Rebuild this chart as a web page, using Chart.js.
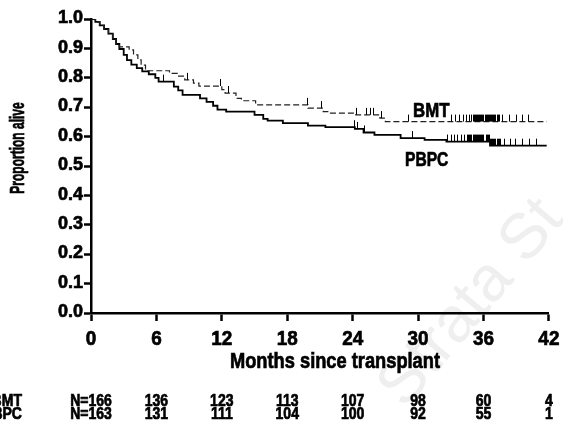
<!DOCTYPE html>
<html>
<head>
<meta charset="utf-8">
<script src="https://cdn.jsdelivr.net/npm/chart.js@4"></script>
<style>
  html, body { margin: 0; padding: 0; background: #fff; }
  canvas { display: block; }
</style>
</head>
<body>
<canvas id="kmChart" width="563" height="424"></canvas>
<script>
// survival steps: [month, proportion alive after the drop]
const bmtSteps = [
  [0, 1.0], [0.4, 0.99], [0.8, 0.978], [1.2, 0.966], [1.6, 0.95], [2.0, 0.932],
  [2.3, 0.915], [2.6, 0.905], [3.5, 0.895], [3.9, 0.878], [4.3, 0.861], [4.6, 0.843],
  [5.0, 0.824], [7.2, 0.815], [7.9, 0.806], [8.6, 0.793], [9.4, 0.782], [9.9, 0.772],
  [12.0, 0.76], [12.3, 0.748], [13.3, 0.73], [13.8, 0.722], [15.1, 0.708], [19.9, 0.697],
  [21.3, 0.685], [21.8, 0.68], [24.3, 0.674], [26.5, 0.663], [27.0, 0.651], [41.8, 0.651]
];
const pbpcSteps = [
  [0, 1.0], [0.4, 0.99], [0.8, 0.978], [1.2, 0.966], [1.6, 0.95], [2.0, 0.932],
  [2.3, 0.915], [2.6, 0.898], [3.0, 0.878], [3.3, 0.86], [3.7, 0.845], [4.2, 0.833],
  [4.7, 0.822], [5.3, 0.812], [5.9, 0.8], [6.2, 0.787], [7.6, 0.77], [8.0, 0.757],
  [8.4, 0.742], [10.0, 0.73], [10.6, 0.718], [11.2, 0.705], [11.6, 0.692], [12.4, 0.685],
  [15.0, 0.674], [15.8, 0.66], [16.2, 0.654], [17.6, 0.646], [19.9, 0.637], [21.5, 0.632],
  [24.2, 0.626], [25.0, 0.614], [26.0, 0.606], [28.4, 0.595], [30.6, 0.589], [32.6, 0.583],
  [36.6, 0.569], [41.8, 0.569]
];
// censored observations (months)
const bmtCensored = [8.8, 11.8, 12.6, 19.8, 21.1, 24.3, 25.2, 25.6, 25.9, 26.6, 29.1,
  33.0, 33.4, 33.8, 34.1, 34.4, 34.7, 34.9, 35.0, 35.1, 35.2, 35.3, 35.4, 35.5, 35.6,
  35.7, 35.8, 35.9, 36.0, 36.1, 36.2, 36.3, 36.4, 36.5, 36.6, 36.7, 36.8, 36.9, 37.0,
  37.1, 37.2, 37.3, 37.4, 37.7, 38.3, 39.0, 39.5, 40.1];
const pbpcCensored = [6.6, 24.1, 24.4, 25.0, 29.4, 32.7, 33.0, 33.3, 33.6, 33.9, 34.2,
  34.5, 34.6, 34.7, 34.8, 34.9, 35.0, 35.1, 35.2, 35.3, 35.4, 35.5, 35.6, 35.7, 35.8,
  35.9, 36.0, 36.2, 36.3, 36.4, 36.5, 36.6, 36.7, 36.8, 36.9, 37.0, 37.1, 37.2, 37.3,
  37.4, 37.5, 37.9, 38.4, 38.9, 39.5, 40.2, 40.8];

// number at risk
const riskMonths = [0, 6, 12, 18, 24, 30, 36, 42];
const bmtAtRisk = ["N=166", "136", "123", "113", "107", "98", "60", "4"];
const pbpcAtRisk = ["N=163", "131", "111", "104", "100", "92", "55", "1"];

const FONT = "'Liberation Sans', Arial, sans-serif";

function toPoints(steps) {
  return steps.map(s => ({ x: s[0], y: s[1] }));
}

function survivalAt(steps, t) {
  let v = steps[0][1];
  for (const s of steps) {
    if (s[0] <= t) v = s[1];
  }
  return v;
}

// heavy, horizontally squeezed text (condensed look)
function drawText(ctx, text, x, y, size, sx, align, baseline) {
  ctx.save();
  ctx.translate(x, y);
  ctx.scale(sx, 1);
  ctx.font = "bold " + size + "px " + FONT;
  ctx.textAlign = align;
  ctx.textBaseline = baseline;
  ctx.fillStyle = "#000";
  ctx.strokeStyle = "#000";
  ctx.lineWidth = 0.7;
  ctx.fillText(text, 0, 0);
  ctx.strokeText(text, 0, 0);
  ctx.restore();
}

const extrasPlugin = {
  id: "extras",
  beforeDraw(chart) {
    const ctx = chart.ctx;
    ctx.save();
    ctx.translate(405, 410);
    ctx.rotate(-0.87);
    ctx.fillStyle = "#efefef";
    ctx.font = "64px " + FONT;
    ctx.fillText("Strata St", 0, 0);
    ctx.restore();
  },
  afterDraw(chart) {
    const ctx = chart.ctx;
    const xs = chart.scales.x;
    const ys = chart.scales.y;

    // censor marks
    ctx.save();
    ctx.strokeStyle = "#000";
    ctx.lineWidth = 1;
    const marks = [[bmtSteps, bmtCensored], [pbpcSteps, pbpcCensored]];
    marks.forEach(([steps, times]) => {
      times.forEach(t => {
        const px = Math.round(xs.getPixelForValue(t)) + 0.5;
        const py = ys.getPixelForValue(survivalAt(steps, t));
        ctx.beginPath();
        ctx.moveTo(px, py);
        ctx.lineTo(px, py - 7);
        ctx.stroke();
      });
    });
    ctx.restore();

    // tick labels
    ys.ticks.forEach(t => {
      drawText(ctx, t.value.toFixed(1), 83, ys.getPixelForValue(t.value) - 1, 19, 0.95, "right", "middle");
    });
    xs.ticks.forEach(t => {
      drawText(ctx, String(t.value), xs.getPixelForValue(t.value), 345, 21, 0.9, "center", "alphabetic");
    });

    // curve labels
    drawText(ctx, "BMT", 413, 117, 20, 0.84, "left", "alphabetic");
    drawText(ctx, "PBPC", 405, 166, 20, 0.78, "left", "alphabetic");

    // axis titles
    drawText(ctx, "Months since transplant", 335, 368, 22, 0.83, "center", "alphabetic");
    ctx.save();
    ctx.translate(18, 148);
    ctx.rotate(-Math.PI / 2);
    drawText(ctx, "Proportion alive", 0, 0, 20, 0.6, "center", "middle");
    ctx.restore();

    // number at risk table
    drawText(ctx, "BMT", 22, 401, 16.5, 0.85, "right", "middle");
    drawText(ctx, "PBPC", 22, 414, 16.5, 0.85, "right", "middle");
    riskMonths.forEach((m, i) => {
      const px = xs.getPixelForValue(m);
      drawText(ctx, bmtAtRisk[i], px, 401, 16.5, 0.85, "center", "middle");
      drawText(ctx, pbpcAtRisk[i], px, 414, 16.5, 0.85, "center", "middle");
    });
  }
};

new Chart(document.getElementById("kmChart"), {
  type: "line",
  data: {
    datasets: [
      {
        label: "BMT",
        data: toPoints(bmtSteps),
        stepped: "before",
        borderColor: "#222",
        borderWidth: 1.2,
        borderDash: [6, 3],
        pointRadius: 0,
        fill: false
      },
      {
        label: "PBPC",
        data: toPoints(pbpcSteps),
        stepped: "before",
        borderColor: "#000",
        borderWidth: 1.8,
        pointRadius: 0,
        fill: false
      }
    ]
  },
  options: {
    responsive: false,
    animation: false,
    devicePixelRatio: 1,
    layout: { padding: { top: 19, right: 11, left: 0, bottom: 0 } },
    plugins: {
      legend: { display: false },
      tooltip: { enabled: false }
    },
    scales: {
      x: {
        type: "linear",
        min: 0,
        max: 42,
        afterFit: scale => { scale.height = 111; },
        ticks: {
          stepSize: 6,
          color: "rgba(0,0,0,0)",
          font: { family: FONT, size: 20, weight: "bold" }
        },
        grid: {
          drawOnChartArea: false,
          drawTicks: true,
          tickLength: 8,
          tickWidth: 2.5,
          tickColor: "#000"
        },
        border: { color: "#000", width: 2.5 }
      },
      y: {
        min: 0,
        max: 1,
        afterFit: scale => { scale.width = 91; },
        ticks: {
          stepSize: 0.1,
          color: "rgba(0,0,0,0)",
          font: { family: FONT, size: 19, weight: "bold" }
        },
        grid: {
          drawOnChartArea: false,
          drawTicks: true,
          tickLength: 7,
          tickWidth: 2.5,
          tickColor: "#000"
        },
        border: { color: "#000", width: 2.5 }
      }
    }
  },
  plugins: [extrasPlugin]
});
</script>
</body>
</html>
